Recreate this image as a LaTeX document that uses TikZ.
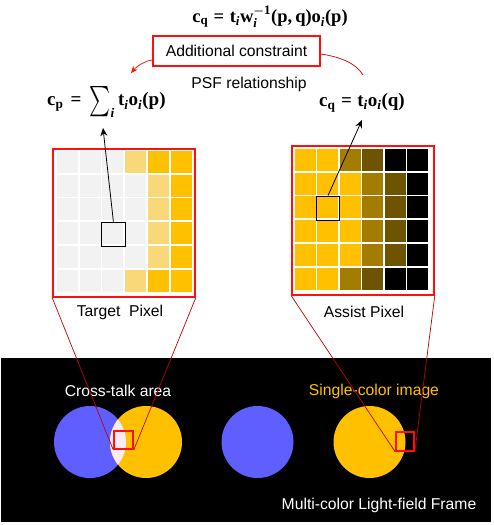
\documentclass[tikz,border=0pt]{standalone}
\usepackage{fontspec}
\setmainfont{Liberation Sans}
\newfontfamily\mfont{Liberation Serif}
\usepackage{amsmath}
\usepackage{exscale}
\usepackage{graphicx}
\usetikzlibrary{arrows.meta}
\newcommand\bb[1]{\text{\mfont\bfseries #1}}
\newcommand\ii{\text{\mfont\bfseries\itshape i}}
\definecolor{cgray}{HTML}{F2F2F2}
\definecolor{clight}{HTML}{F8D878}
\definecolor{cgold}{HTML}{FFC000}
\definecolor{cdk}{HTML}{A47C00}
\definecolor{cdkk}{HTML}{6E5300}
\definecolor{cblk}{HTML}{000000}
\definecolor{cblue}{HTML}{5F5FFF}
\definecolor{clens}{HTML}{FCEAF2}
\definecolor{cred}{HTML}{FF1010}
\definecolor{cdred}{HTML}{C00000}
\begin{document}
\begin{tikzpicture}[x=1pt,y=-1pt,
  lbl/.style={font=\fontsize{15.7}{18}\selectfont, inner sep=0},
  mth/.style={font=\fontsize{19}{22}\selectfont\boldmath, inner sep=0},
  frame/.style={draw=cred, line width=1.5pt, inner sep=0},
  selbox/.style={draw=black, line width=1.3pt, inner sep=0, minimum width=23.5, minimum height=24.5},
  zoombox/.style={draw=cred, line width=1.6pt, inner sep=0},
  thinred/.style={draw=cdred, line width=0.7pt},
  ptr/.style={draw=black, line width=0.8pt, -{Stealth[length=8pt,width=7pt]}}]
\useasboundingbox (0,0) rectangle (493,525);
% black frame
\fill[black] (1,358) rectangle (491,522);
% circles
\fill[cblue] (90,442) circle (36);
\fill[cgold] (146,442) circle (36);
\begin{scope}
  \clip (90,442) circle (36);
  \fill[clens] (146,442) circle (36);
\end{scope}
\fill[cblue] (257.5,442) circle (36);
\fill[cgold] (369.5,442) circle (36);
% texts in frame
\node[lbl, text=white] (ct) at (118,391) {Cross-talk area};
\node[lbl, text=cgold] (sc) at (374,391) {Single-color image};
\node[lbl, text=white] (mc) at (379,505) {Multi-color Light-field Frame};
% left grid
\foreach \e/\m [count=\c from 0] in {cgray/cgray,cgray/cgray,cgray/cgray,clight/cgray,cgold/clight,cgold/cgold}{
  \foreach \r in {0,...,5}{
    \pgfmathtruncatemacro\edg{(\r==0)||(\r==5)}
    \ifnum\edg=1 \def\col{\e}\else\def\col{\m}\fi
    \fill[\col] ({57+\c*22.7},{151+\r*23.7}) rectangle ++(21,22);
  }
}
% right grid
\foreach \e/\m [count=\c from 0] in {cgold/cgold,cgold/cgold,cdk/cgold,cdkk/cdk,cblk/cdkk,cblk/cblk}{
  \foreach \r in {0,...,5}{
    \pgfmathtruncatemacro\edg{(\r==0)||(\r==5)}
    \ifnum\edg=1 \def\col{\e}\else\def\col{\m}\fi
    \fill[\col] ({295+\c*22.45},{149+\r*23.7}) rectangle ++(20.8,22);
  }
}
\node[frame, minimum width=142, minimum height=148] (lframe) at (124,223) {};
\node[frame, minimum width=142, minimum height=149] (rframe) at (363,220.5) {};
\node[selbox] (lsel) at (113.4,234.5) {};
\node[selbox] (rsel) at (328,208.5) {};
% zoom boxes
\node[zoombox, minimum width=19, minimum height=18] (lsq) at (123.5,440) {};
\node[zoombox, minimum width=18, minimum height=19] (rsq) at (405,441.5) {};
\draw[thinred] (lframe.south west) -- (lsq.south west);
\draw[thinred] (lframe.south east) -- (lsq.south east);
\draw[thinred] (rframe.south west) -- (rsq.south west);
\draw[thinred] (rframe.south east) -- (rsq.south east);
% labels
\node[lbl] (tp) at (120,312) {Target\ \ Pixel};
\node[lbl] (ap) at (364,312) {Assist Pixel};
% formulas
\node[mth, font=\fontsize{18.5}{22}\selectfont\boldmath] (ftop) at (270,17) {$\bb{c}_{\bb{q}} \mathrel{\bb{=}} \bb{t}_{\ii}\bb{w}_{\ii}^{-\bb{1}}\bb{(p,\,q)o}_{\ii}\bb{(p)}$};
\node[mth, anchor=west] (fl) at (47,102) {$\bb{c}_{\bb{p}}\hspace{7pt}\bb{=}\hspace{5pt}\mathop{\vcenter{\hbox{\scalebox{1.15}[1.75]{$\sum$}}}}\nolimits_{\ii}\bb{t}_{\ii}\bb{o}_{\ii}\bb{(p)}$};
\node[mth] (fr) at (362,103) {$\bb{c}_{\bb{q}} \mathrel{\bb{=}} \bb{t}_{\ii}\bb{o}_{\ii}\bb{(q)}$};
% constraint box
\node[draw=cred, line width=2pt, minimum width=167, minimum height=30, inner sep=0, font=\fontsize{15.7}{18}\selectfont] (ac) at (236.5,51) {Additional constraint};
\node[lbl] (psf) at (249,84) {PSF relationship};
\coordinate (ltip) at (131,73);
\coordinate (rend) at (363,75);
\draw[draw=cred, line width=0.8pt, -{Stealth[length=7pt,width=6pt]}] ([yshift=-9pt]ac.west) .. controls (145,61) and (137,66) .. (ltip);
\draw[draw=cdred, line width=0.7pt] ([yshift=-3pt]ac.east) .. controls (340,57) and (356,63) .. (rend);
% pointers
\coordinate (ltarget) at (103,128);
\coordinate (rtarget) at (362,120);
\draw[ptr] (lsel.north) -- (ltarget);
\draw[ptr] (rsel.north) -- (rtarget);
\end{tikzpicture}
\end{document}
